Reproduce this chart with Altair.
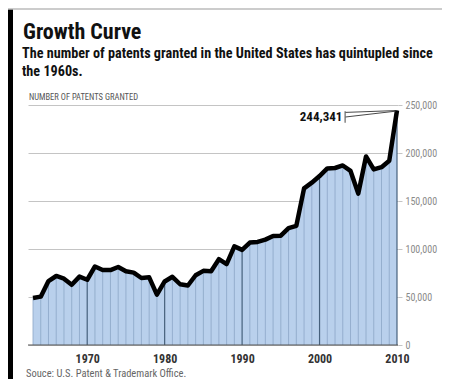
import altair as alt
import pandas as pd

years = list(range(1963, 2011))
patents = [48971, 50389, 66647, 71886, 69098, 62714, 71230, 67964, 81790, 78185,
           78032, 81278, 76810, 75388, 69781, 70514, 52413, 66170, 71064, 63276,
           61982, 72650, 77245, 76862, 89385, 84272, 102712, 99077, 106696, 107394,
           109746, 113587, 113834, 121696, 124069, 163142, 169094, 175979, 183975, 184375,
           187015, 181299, 157718, 196405, 182899, 185224, 191927, 244341]
x_ticks = [1970, 1980, 1990, 2000, 2010]
y_ticks = [0, 50000, 100000, 150000, 200000, 250000]

title_text = ["Growth Curve"]
subtitle_lines = ["The number of patents granted in the United States has quintupled since", "the 1960s."]
axis_title = ["NUMBER OF PATENTS GRANTED"]
source_text = ["Souce: U.S. Patent & Trademark Office."]
callout_text = ["244,341"]

NARROW = "Liberation Sans Narrow, Roboto Condensed, Arial Narrow, sans-serif"

df = pd.DataFrame({"year": years, "value": patents})

xs = alt.Scale(domain=[1962.355, 2010.13], nice=False, zero=False)
ys = alt.Scale(domain=[0, 250000], nice=False)

base = alt.Chart(df)

area = base.mark_area(color="#b9d0ec", opacity=1).encode(
    x=alt.X("year:Q", scale=xs, axis=alt.Axis(values=x_ticks, format="d", title=None, grid=False,
                                               ticks=False, domain=False, labelFont=NARROW,
                                               labelFontWeight="bold", labelFontSize=12,
                                               labelColor="#333333", labelPadding=8)),
    y=alt.Y("value:Q", scale=ys, axis=alt.Axis(values=y_ticks, format=",.0f", title=None, orient="right",
                                                grid=True, gridColor="#c4c4c4", tickColor="#c4c4c4",
                                                tickSize=4, domain=False, labelFont=NARROW,
                                                labelFontSize=10, labelColor="#8a8a8a",
                                                labelPadding=3)),
)

year_rules = base.transform_filter("datum.year % 10 != 0").mark_rule(color="#8ca6c6", strokeWidth=0.8).encode(
    x="year:Q", y="value:Q", y2=alt.datum(0)
)
decade_rules = base.transform_filter("datum.year % 10 == 0").mark_rule(color="#46607c", strokeWidth=1.2).encode(
    x="year:Q", y="value:Q", y2=alt.datum(0)
)

baseline = alt.Chart(alt.Data(values=[{"a": 1962.355, "b": 2010.13, "v": 0}])).mark_rule(
    color="#555555", strokeWidth=1.2).encode(x="a:Q", x2="b:Q", y="v:Q")

line = base.mark_line(color="black", strokeWidth=4.5, strokeJoin="round").encode(x="year:Q", y="value:Q")

callout_lines = alt.Chart(alt.Data(values=[
    {"x": 2003.35, "y": 242300, "x2": 2009.85, "y2": 244200},
    {"x": 2003.35, "y": 237500, "x2": 2009.85, "y2": 243600},
])).mark_rule(color="#333333", strokeWidth=0.9).encode(x="x:Q", y="y:Q", x2="x2:Q", y2="y2:Q")

bracket = alt.Chart(alt.Data(values=[{"x": 2003.3, "y": 243500, "y2": 231500}])).mark_rule(
    color="#333333", strokeWidth=0.9).encode(x="x:Q", y="y:Q", y2="y2:Q")

callout = alt.Chart(alt.Data(values=[{"t": callout_text[0], "x": 2002.95, "y": 237000}])).mark_text(
    font=NARROW, fontWeight="bold", fontSize=13, align="right", baseline="middle", color="#111111"
).encode(x="x:Q", y="y:Q", text="t:N")


def text_layer(s, x, y, size, weight="normal", color="black"):
    return alt.Chart(alt.Data(values=[{"t": s}])).mark_text(
        font=NARROW, fontSize=size, fontWeight=weight, color=color, align="left", baseline="alphabetic"
    ).encode(x=alt.value(x), y=alt.value(y), text="t:N")


title = text_layer(title_text[0], -5, -66, 22, "bold", "#111111")
sub1 = text_layer(subtitle_lines[0], -6, -47, 14.2, "bold", "#111111")
sub2 = text_layer(subtitle_lines[1], -6, -29, 14.2, "bold", "#111111")
ytitle = text_layer(axis_title[0], 1, -5, 8.5, "normal", "#555555")
source = text_layer(source_text[0], -2, 272, 10.5, "normal", "#666666")

side_bar = alt.Chart(alt.Data(values=[{"k": 0}])).mark_rule(color="black", strokeWidth=5).encode(
    x=alt.value(-17.5), y=alt.value(-96), y2=alt.value(274)
)
top_line = alt.Chart(alt.Data(values=[{"k": 0}])).mark_rule(color="#bbbbbb", strokeWidth=1.5).encode(
    x=alt.value(-20), x2=alt.value(414), y=alt.value(-96)
)

chart = alt.layer(
    area, year_rules, decade_rules, baseline, line, callout_lines, bracket, callout,
    title, sub1, sub2, ytitle, source, side_bar, top_line
).properties(
    width=370, height=240,
    padding={"left": 20, "top": 97, "right": 44, "bottom": 34},
    autosize=alt.AutoSizeParams(type="none"),
).configure_view(stroke=None)

chart.save("out.html", embed_options={"renderer": "svg", "actions": False})
